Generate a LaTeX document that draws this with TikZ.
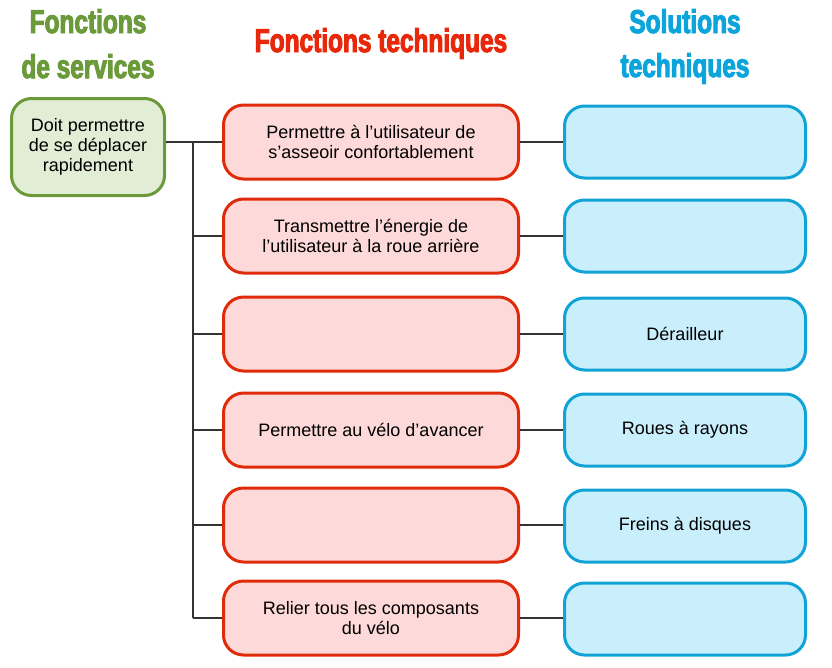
\documentclass[tikz,border=0pt]{standalone}
\usepackage{fontspec}
\setmainfont{Liberation Sans}
\newfontfamily\hdrfont{Liberation Sans Bold}[FakeStretch=0.74,FakeBold=3]
\newcommand\bodyfont{\fontsize{18}{20}\selectfont}
\newcommand\hdrsize{\fontsize{33}{45}\selectfont}
\definecolor{gtext}{HTML}{6A9A3A}
\definecolor{gborder}{HTML}{6A9A3A}
\definecolor{gfill}{HTML}{E2EDD6}
\definecolor{rtext}{HTML}{E8280A}
\definecolor{rborder}{HTML}{E02B0A}
\definecolor{rfill}{HTML}{FDD9D9}
\definecolor{btext}{HTML}{0BA5DC}
\definecolor{bborder}{HTML}{12A3D6}
\definecolor{bfill}{HTML}{C9EEFC}
\definecolor{lnk}{HTML}{333333}
\begin{document}
\begin{tikzpicture}[x=1pt,y=-1pt,
  hdr/.style={font=\hdrfont\hdrsize, inner sep=0pt, anchor=base},
  gbox/.style={draw=gborder, fill=gfill, line width=3pt, rounded corners=20pt,
    minimum width=153pt, minimum height=97pt, align=center, font=\bodyfont, inner sep=0pt},
  rbox/.style={draw=rborder, fill=rfill, line width=3pt, rounded corners=20pt,
    minimum width=295pt, minimum height=74pt, align=center, font=\bodyfont, inner sep=0pt},
  bbox/.style={draw=bborder, fill=bfill, line width=3pt, rounded corners=20pt,
    minimum width=241pt, minimum height=72pt, align=center, font=\bodyfont, inner sep=0pt},
  link/.style={draw=lnk, line width=2pt}]
\useasboundingbox (0,0) rectangle (832,667);
% headers
\node[hdr, text=gtext] (h1a) at (88,33) {Fonctions};
\node[hdr, text=gtext] (h1b) at (88,78) {de services};
\node[hdr, text=rtext] (h2) at (381,52) {Fonctions techniques};
\node[hdr, text=btext] (h3a) at (685,33) {Solutions};
\node[hdr, text=btext] (h3b) at (685,77) {techniques};
% service function
\node[gbox] (g) at (88,147) {Doit permettre\\de se déplacer\\rapidement};
% technical functions
\node[rbox] (r1) at (371,142) {Permettre à l’utilisateur de\\s’asseoir confortablement};
\node[rbox] (r2) at (371,236) {Transmettre l’énergie de\\l’utilisateur à la roue arrière};
\node[rbox] (r3) at (371,334) {};
\node[rbox] (r4) at (371,430) {Permettre au vélo d’avancer};
\node[rbox] (r5) at (371,525) {};
\node[rbox] (r6) at (371,618) {Relier tous les composants\\du vélo};
% technical solutions
\node[bbox] (b1) at (685,142) {};
\node[bbox] (b2) at (685,236) {};
\node[bbox] (b3) at (685,334) {Dérailleur};
\node[bbox] (b4) at (685,430) {Roues à rayons};
\node[bbox] (b5) at (685,526) {Freins à disques};
\node[bbox] (b6) at (685,619) {};
% connectors
\coordinate (trunk) at (193,0);
\draw[link] (g.east |- r1.west) -- (r1.west);
\draw[link] (trunk |- r1.west) -- (trunk |- r6.west);
\foreach \i in {2,...,6} {\draw[link] (trunk |- r\i.west) -- (r\i.west);}
\foreach \i in {1,...,6} {\draw[link] (r\i.east) -- (b\i.west |- r\i.east);}
\end{tikzpicture}
\end{document}
